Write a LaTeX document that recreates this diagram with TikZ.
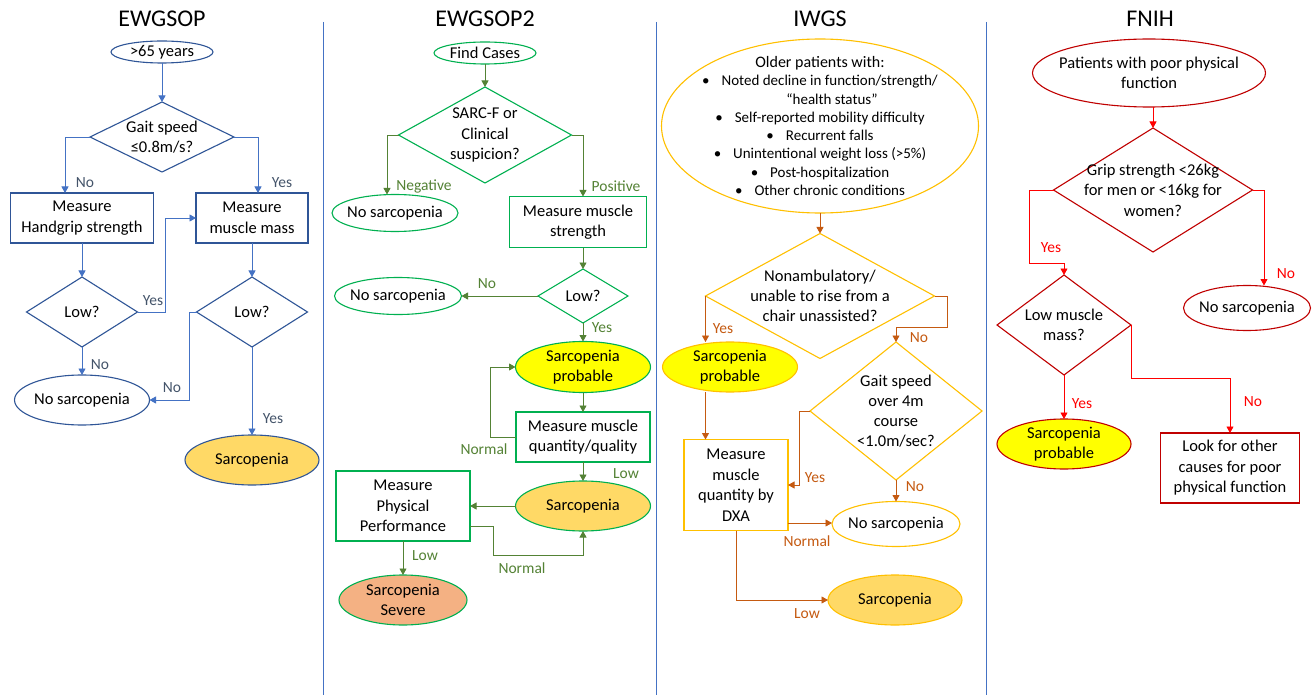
\documentclass[tikz,border=0pt]{standalone}
\usepackage{fontspec}
\setmainfont{Carlito}
\usetikzlibrary{shapes.geometric,arrows.meta}
\definecolor{bS}{HTML}{2F5597}
\definecolor{bA}{HTML}{4472C4}
\definecolor{bL}{HTML}{44546A}
\definecolor{gS}{HTML}{00B050}
\definecolor{gA}{HTML}{548235}
\definecolor{oS}{HTML}{FFC000}
\definecolor{oA}{HTML}{C55A11}
\definecolor{rS}{HTML}{C00000}
\definecolor{rA}{HTML}{FF0000}
\definecolor{gold}{HTML}{FFD966}
\definecolor{yel}{HTML}{FFFF00}
\definecolor{sev}{HTML}{F4B183}
\tikzset{
  txt/.style={align=center, font=\fontsize{16.5}{20.5}\selectfont, text=black, inner sep=0pt, draw=none, fill=none},
  shp/.style={inner sep=0pt, outer sep=0pt, line width=1.1pt},
  ell/.style={shp, ellipse},
  dia/.style={shp, diamond},
  box/.style={shp, rectangle, align=center, text=black, font=\fontsize{16.5}{20.5}\selectfont},
  ttl/.style={font=\fontsize{24}{28}\selectfont, inner sep=0pt},
  lbl/.style={font=\fontsize{15.5}{17}\selectfont, inner sep=0pt},
  arr/.style={-{Triangle[width=7pt,length=6.5pt]}, line width=0.9pt},
  divider/.style={draw=bA, line width=1pt},
}
\begin{document}
\begin{tikzpicture}[x=1pt,y=-1pt]
\useasboundingbox[fill=white] (0,0) rectangle (1314,695);

% dividers
\draw[divider] (323,22) -- (323,695);
\draw[divider] (656,22) -- (656,695);
\draw[divider] (986,22) -- (986,695);

% ===== EWGSOP =====
\node[ttl] (t1) at (162,18.5) {EWGSOP};
\node[ell, draw=bS, minimum width=102, minimum height=22, label={[txt]center:{>65 years}}] (a1) at (162,52) {};
\node[dia, draw=bS, minimum width=144, minimum height=70, label={[txt]center:{Gait speed\\≤0.8m/s?}}] (d1) at (162,137) {};
\node[box, draw=bS, minimum width=143, minimum height=50] (b1) at (82,218) {Measure\\Handgrip strength};
\node[box, draw=bS, minimum width=112, minimum height=50] (b2) at (252,218) {Measure\\muscle mass};
\node[dia, draw=bS, minimum width=111, minimum height=70, label={[txt]center:{Low?}}] (d2) at (82,312) {};
\node[dia, draw=bS, minimum width=111, minimum height=70, label={[txt]center:{Low?}}] (d3) at (252,312) {};
\node[ell, draw=bS, minimum width=135, minimum height=50, label={[txt]center:{No sarcopenia}}] (e1) at (82,400) {};
\node[ell, draw=bS, fill=gold, minimum width=134, minimum height=50, label={[txt]center:{Sarcopenia}}] (e2) at (252,460) {};
\draw[arr, bA] (a1) -- (d1);
\draw[arr, bA] (d1.west) -| ([xshift=-17pt]b1.north);
\draw[arr, bA] (d1.east) -| ([xshift=6pt]b2.north);
\draw[arr, bA] (b1) -- (d2);
\draw[arr, bA] (b2) -- (d3);
\draw[arr, bA] (d2.east) -- ++(28,0) |- (b2.west);
\draw[arr, bA] (d3.west) -- ++(-7,0) |- (e1.east);
\draw[arr, bA] (d2) -- (e1);
\draw[arr, bA] (d3) -- (e2);
\node[lbl, text=bL] (l1) at (85,183) {No};
\node[lbl, text=bL] (l2) at (282,183) {Yes};
\node[lbl, text=bL] (l3) at (153,301) {Yes};
\node[lbl, text=bL] (l4) at (100,365) {No};
\node[lbl, text=bL] (l5) at (172,388) {No};
\node[lbl, text=bL] (l6) at (273,419) {Yes};

% ===== EWGSOP2 =====
\node[ttl] (t2) at (485,18.5) {EWGSOP2};
\node[ell, draw=gS, minimum width=102, minimum height=22, label={[txt]center:{Find Cases}}] (a2) at (485,53) {};
\node[dia, draw=gS, minimum width=173, minimum height=96, label={[txt]center:{SARC-F or\\Clinical\\suspicion?}}] (d4) at (485,135) {};
\node[ell, draw=gS, minimum width=126, minimum height=37, label={[txt]center:{No sarcopenia}}] (e3) at (395,213) {};
\node[box, draw=gS, minimum width=137, minimum height=51] (b3) at (578,222) {Measure muscle\\strength};
\node[dia, draw=gS, minimum width=90, minimum height=54, label={[txt]center:{Low?}}] (d5) at (583,296) {};
\node[ell, draw=gS, minimum width=127, minimum height=37, label={[txt]center:{No sarcopenia}}] (e4) at (398,296) {};
\node[ell, draw=gS, fill=yel, minimum width=135, minimum height=51, label={[txt]center:{Sarcopenia\\probable}}] (e5) at (583,367) {};
\node[box, draw=gS, minimum width=134, minimum height=50] (b4) at (583,437) {Measure muscle\\quantity/quality};
\node[ell, draw=gS, fill=gold, minimum width=135, minimum height=50, label={[txt]center:{Sarcopenia}}] (e6) at (583,506) {};
\node[box, draw=gS, minimum width=134, minimum height=70] (b5) at (403,506) {Measure\\Physical\\Performance};
\node[ell, draw=gS, fill=sev, minimum width=128, minimum height=50, label={[txt]center:{Sarcopenia\\Severe}}] (e7) at (403,600) {};
\draw[arr, gA] (a2) -- (d4);
\draw[arr, gA] (d4.west) -| ([xshift=-8pt]e3.north);
\draw[arr, gA] (d4.east) -| ([xshift=5pt]b3.north);
\draw[arr, gA] ([xshift=5pt]b3.south) -- (d5.north);
\draw[arr, gA] (d5.west) -- (e4.east);
\draw[arr, gA] (d5) -- (e5);
\draw[arr, gA] (e5) -- (b4);
\draw[arr, gA] (b4.west) -- ++(-26,0) |- (e5.west);
\draw[arr, gA] (b4) -- (e6);
\draw[arr, gA] (e6.west) -- (b5.east);
\draw[arr, gA] ([yshift=-20pt]b5.east) -- ++(23,0) -- ++(0,29) -| (e6.south);
\draw[arr, gA] (b5) -- (e7);
\node[lbl, text=gA] (l7) at (424,186) {Negative};
\node[lbl, text=gA] (l8) at (616,186) {Positive};
\node[lbl, text=gA] (l9) at (487,284) {No};
\node[lbl, text=gA] (l10) at (602,328) {Yes};
\node[lbl, text=gA] (l11) at (484,449) {Normal};
\node[lbl, text=gA] (l12) at (626,474) {Low};
\node[lbl, text=gA] (l13) at (425,556) {Low};
\node[lbl, text=gA] (l14) at (522,568) {Normal};

% ===== IWGS =====
\node[ttl] (t3) at (820,18.5) {IWGS};
\node[ell, draw=oS, minimum width=317, minimum height=174,
  label={[txt, font=\fontsize{15}{18.3}\selectfont]center:{{\fontsize{16}{18}\selectfont Older patients with:}\\
  •\hspace{12pt}Noted decline in function/strength/\\
  \hspace*{24pt}“health status”\\
  •\hspace{12pt}Self-reported mobility difficulty\\
  •\hspace{12pt}Recurrent falls\\
  •\hspace{12pt}Unintentional weight loss (>5\%)\\
  •\hspace{12pt}Post-hospitalization\\
  •\hspace{12pt}Other chronic conditions}}] (e8) at (820,126) {};
\node[dia, draw=oS, minimum width=229, minimum height=125, label={[txt, font=\fontsize{16.5}{20}\selectfont]center:{Nonambulatory/\\unable to rise from a\\chair unassisted?}}] (d6) at (820,296) {};
\node[ell, draw=oS, fill=yel, minimum width=135, minimum height=50, label={[txt]center:{Sarcopenia\\probable}}] (e9) at (730,367) {};
\node[dia, draw=oS, minimum width=172, minimum height=138, label={[txt, font=\fontsize{16.5}{20}\selectfont]center:{Gait speed\\over 4m\\course\\<1.0m/sec?}}] (d7) at (896,411) {};
\node[box, draw=oS, minimum width=104, minimum height=91] (b6) at (736,485) {Measure\\muscle\\quantity by\\DXA};
\node[ell, draw=oS, minimum width=128, minimum height=45, label={[txt]center:{No sarcopenia}}] (e10) at (896,524) {};
\node[ell, draw=oS, fill=gold, minimum width=134, minimum height=50, label={[txt]center:{Sarcopenia}}] (e11) at (895,600) {};
\coordinate (c1) at ([yshift=-38pt]b6.east);
\draw[arr, oA] (e8) -- (d6);
\draw[arr, oA] (d6.west) -- (d6.west |- e9.north);
\draw[arr, oA] (d6.east) -- ++(13,0) -- ++(0,31) -| (d7.north);
\draw[arr, oA] (d6.west |- e9.south) -- (d6.west |- b6.north);
\draw[arr, oA] (d7.west) -- ++(-11,0) |- (b6.east);
\draw[arr, oA] (d7) -- (e10);
\draw[arr, oA] (c1) -- (c1 -| e10.west);
\draw[arr, oA] (b6.south) |- (e11.west);
\node[lbl, text=oA] (l15) at (723,329) {Yes};
\node[lbl, text=oA] (l16) at (919,338) {No};
\node[lbl, text=oA] (l17) at (815,478) {Yes};
\node[lbl, text=oA] (l18) at (915,487) {No};
\node[lbl, text=oA] (l19) at (807,541) {Normal};
\node[lbl, text=oA] (l20) at (807,614) {Low};

% ===== FNIH =====
\node[ttl] (t4) at (1150,18.5) {FNIH};
\node[ell, draw=rS, minimum width=233, minimum height=68, label={[txt]center:{Patients with poor physical\\function}}] (e12) at (1149,73) {};
\node[dia, draw=rS, minimum width=199, minimum height=124, label={[txt]center:{Grip strength <26kg\\for men or <16kg for\\women?}}] (d8) at (1153,190) {};
\node[dia, draw=rS, minimum width=134, minimum height=100, label={[txt]center:{Low muscle\\mass?}}] (d9) at (1064,325) {};
\node[ell, draw=rS, minimum width=127, minimum height=45, label={[txt]center:{No sarcopenia}}] (e13) at (1247,308) {};
\node[ell, draw=rS, fill=yel, minimum width=134, minimum height=50, label={[txt]center:{Sarcopenia\\probable}}] (e14) at (1064,444) {};
\node[box, draw=rS, minimum width=139, minimum height=70] (b7) at (1230,468) {Look for other\\causes for poor\\physical function};
\draw[arr, rA] (d8.north |- e12.south) -- (d8.north);
\draw[arr, rA] (d8.west) -- ++(-24,0) -- ++(0,73) -| (d9.north);
\draw[arr, rA] (d8.east) -| ([xshift=17pt]e13.north);
\draw[arr, rA] (d9.east) -- ++(0,53) -| (b7.north);
\draw[arr, rA] (d9) -- (e14);
\node[lbl, text=rA] (l21) at (1051,248) {Yes};
\node[lbl, text=rA] (l22) at (1286,274) {No};
\node[lbl, text=rA] (l23) at (1082,404) {Yes};
\node[lbl, text=rA] (l24) at (1253,402) {No};
\end{tikzpicture}
\end{document}
